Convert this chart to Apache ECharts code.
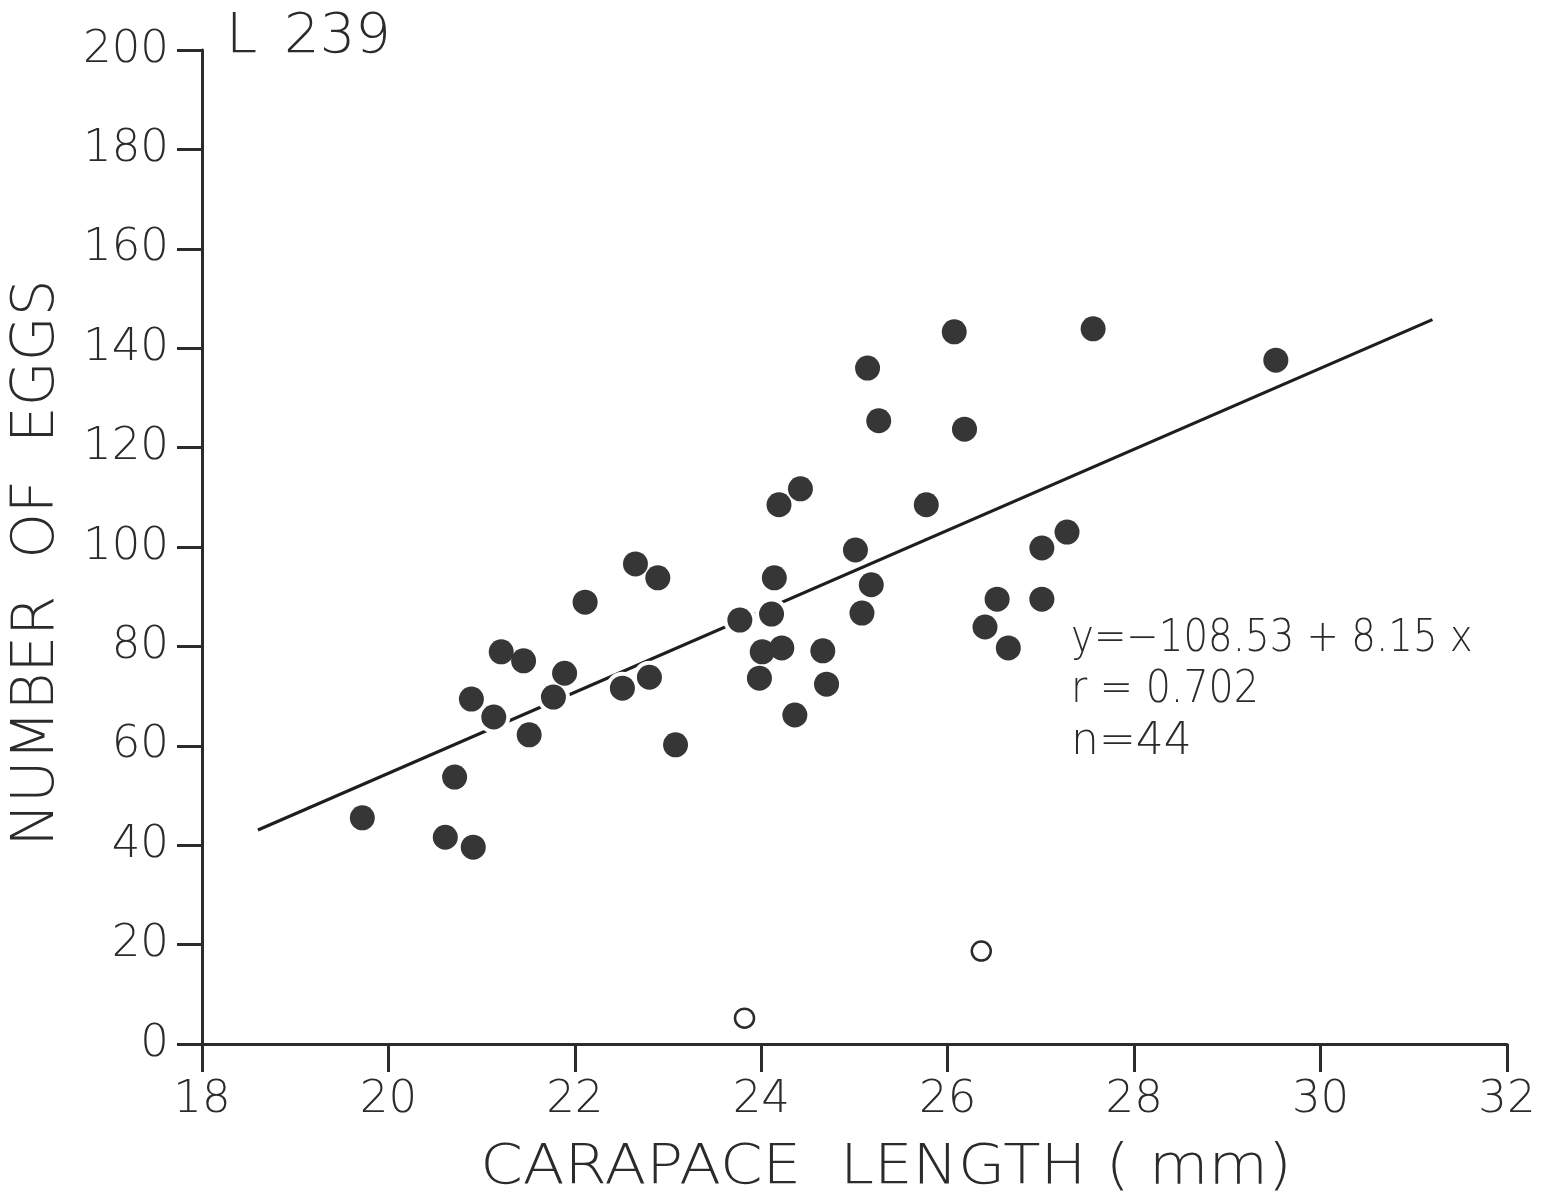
<!DOCTYPE html>
<html>
<head>
<meta charset="utf-8">
<script src="https://cdn.jsdelivr.net/npm/echarts@6/dist/echarts.min.js"></script>
<style>
html,body{margin:0;padding:0;background:#fff;}
#chart{width:1541px;height:1199px;}
</style>
</head>
<body>
<div id="chart"></div>
<script>
// Filled points: carapace length (mm), number of eggs
const lengthFilled = [19.72,20.61,20.71,20.91,20.89,21.13,21.21,21.45,21.51,21.77,21.89,22.11,22.51,22.65,22.80,22.89,23.08,23.77,23.98,24.01,24.11,24.14,24.19,24.22,24.36,24.42,24.66,24.70,25.01,25.08,25.14,25.18,25.26,25.77,26.07,26.18,26.40,26.53,26.65,27.01,27.01,27.28,27.56,29.52];
const eggsFilled   = [45.5,41.6,53.7,39.6,69.4,65.8,78.9,77.1,62.2,69.8,74.6,88.9,71.6,96.6,73.8,93.8,60.2,85.3,73.6,78.9,86.5,93.8,108.5,79.7,66.2,111.7,79.1,72.4,99.4,86.7,136.0,92.4,125.4,108.5,143.3,123.7,83.9,89.5,79.7,99.8,89.5,103.0,143.9,137.6];
// Open points (excluded)
const lengthOpen = [23.82,26.36];
const eggsOpen   = [5.2,18.7];
// Regression
const intercept = -108.53;
const slope = 8.15;
const lineXRange = [18.6,31.2];
const xTicks = [18,20,22,24,26,28,30,32];
const yTicks = [0,20,40,60,80,100,120,140,160,180,200];

const FONT = '"DejaVu Sans", sans-serif';
const INK = '#2b2b2b';

const filled = lengthFilled.map((x,i)=>[x,eggsFilled[i]]);
const open = lengthOpen.map((x,i)=>[x,eggsOpen[i]]);
const regLine = lineXRange.map(x=>[x, intercept + slope*x]);

const chart = echarts.init(document.getElementById('chart'), null, {renderer:'canvas'});
chart.setOption({
  backgroundColor:'#fff',
  animation:false,
  grid:{left:202, right:34, top:50, bottom:155, containLabel:false},
  xAxis:{
    type:'value', min:xTicks[0], max:xTicks[xTicks.length-1], interval:2,
    axisLine:{lineStyle:{color:INK,width:3}},
    axisTick:{show:true,length:28,lineStyle:{color:INK,width:3}},
    axisLabel:{margin:34,fontSize:45,color:INK,fontFamily:FONT,fontWeight:200},
    splitLine:{show:false}
  },
  yAxis:{
    type:'value', min:yTicks[0], max:yTicks[yTicks.length-1], interval:20,
    axisLine:{lineStyle:{color:INK,width:3}},
    axisTick:{show:true,length:25,lineStyle:{color:INK,width:3}},
    axisLabel:{margin:33,fontSize:45,color:INK,fontFamily:FONT,fontWeight:200},
    splitLine:{show:false}
  },
  series:[
    {type:'line', data:regLine, showSymbol:false, symbol:'none', z:2,
     lineStyle:{color:'#1e1e1e',width:3.2}},
    {type:'scatter', data:filled, symbolSize:33, z:3, silent:true,
     itemStyle:{color:'#ffffff',opacity:1}},
    {type:'scatter', data:filled, symbolSize:25, z:4,
     itemStyle:{color:'#363636',opacity:1}},
    {type:'scatter', data:open, symbolSize:19, z:4,
     itemStyle:{color:'#ffffff',borderColor:'#2b2b2b',borderWidth:2.5,opacity:1}}
  ],
  graphic:[
    {type:'text', x:226, y:37, style:{text:'L', font:'200 56px '+FONT, fill:INK, textVerticalAlign:'middle'}},
    {type:'text', x:284, y:37, style:{text:'239', font:'200 56px '+FONT, fill:INK, textVerticalAlign:'middle'}},
    {type:'text', x:886, y:1168, scaleX:1.09, style:{text:'CARAPACE  LENGTH ( mm)', font:'200 56px '+FONT, fill:INK, textAlign:'center', textVerticalAlign:'middle'}},
    {type:'text', x:38, y:563, rotation:Math.PI/2, style:{text:'NUMBER  OF  EGGS', font:'200 58px '+FONT, fill:INK, textAlign:'center', textVerticalAlign:'middle'}},
    {type:'text', x:1071, y:640, scaleX:0.88, style:{text:'y=\u2212108.53 + 8.15 x', font:'200 44px '+FONT, fill:INK, textVerticalAlign:'middle'}},
    {type:'text', x:1071, y:691, scaleX:0.9, style:{text:'r = 0.702', font:'200 44px '+FONT, fill:INK, textVerticalAlign:'middle'}},
    {type:'text', x:1071, y:743, style:{text:'n=44', font:'200 44px '+FONT, fill:INK, textVerticalAlign:'middle'}}
  ]
});
</script>
</body>
</html>
